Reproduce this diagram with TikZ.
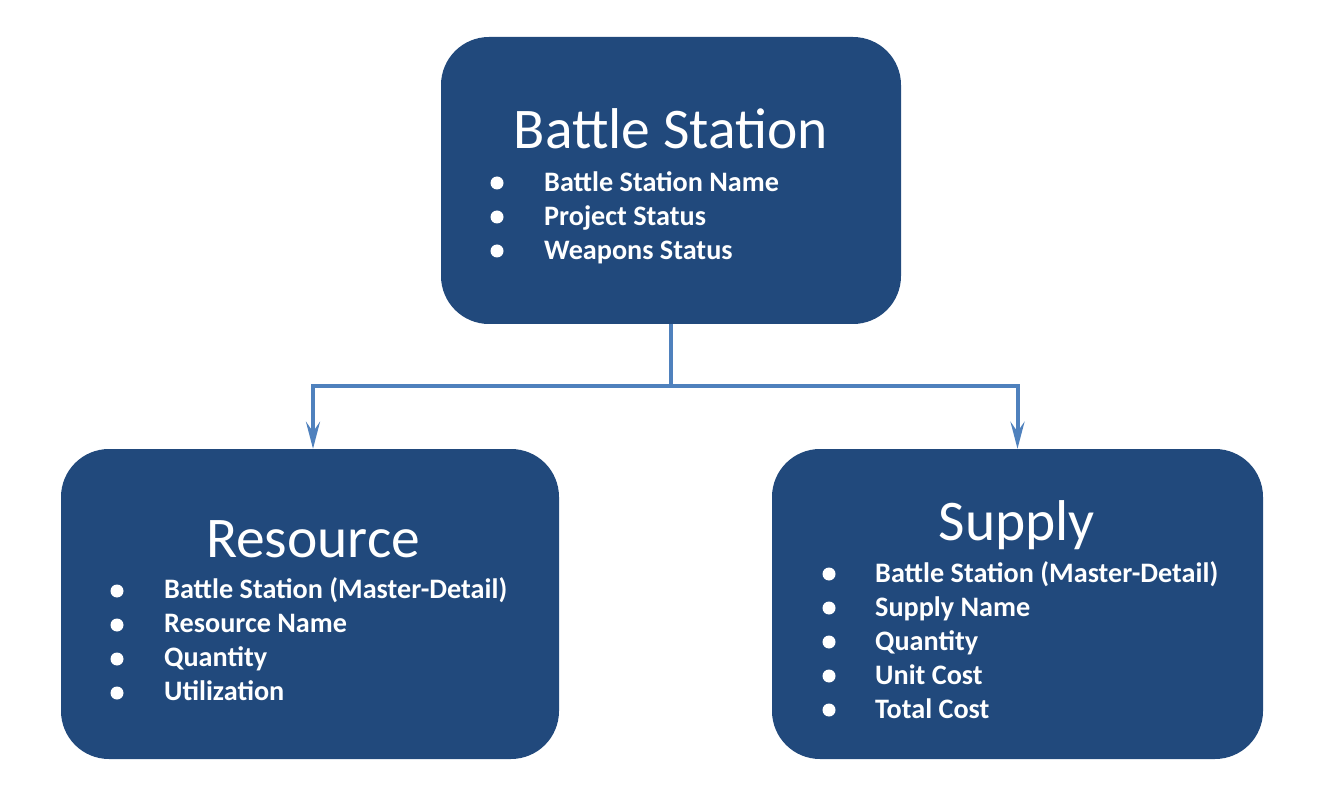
\documentclass[tikz,border=0pt]{standalone}
\usepackage{fontspec}
\setmainfont{Carlito}
\usetikzlibrary{arrows.meta}
\definecolor{boxblue}{RGB}{33,73,124}
\definecolor{linkblue}{RGB}{79,129,189}
\tikzset{
  entity/.style={fill=boxblue, draw=none, rounded corners=48pt, inner sep=0pt},
  titletext/.style={text=white, anchor=base, inner sep=0pt, font=\fontsize{57.5}{60}\selectfont},
  itemtext/.style={text=white, anchor=base west, inner sep=0pt, font=\fontsize{28.2}{30}\selectfont\bfseries},
  dot/.style={circle, fill=white, minimum size=13pt, inner sep=0pt},
  conn/.style={draw=linkblue, line width=4pt, -{Stealth[length=27pt,width=14pt,inset=10pt]}},
}
\begin{document}
\begin{tikzpicture}[x=1pt,y=-1pt]
\useasboundingbox (0,0) rectangle (1326,810);
% boxes
\node[entity, minimum width=460pt, minimum height=287pt] (top) at (671,180.5) {};
\node[entity, minimum width=498pt, minimum height=310pt] (left) at (310,604) {};
\node[entity, minimum width=491pt, minimum height=310pt] (right) at (1017.5,604) {};
% connectors
\coordinate (split) at (671,386);
\draw[conn] (top.south) -- (split) -| ([xshift=3pt]left.north);
\draw[conn] (split) -| (right.north);
% top box text
\node[titletext] (ttitle) at (671,149) {Battle Station};
\node[dot] (tb1) at (497,183) {};
\node[dot] (tb2) at (497,217) {};
\node[dot] (tb3) at (497,251) {};
\node[itemtext] (ti1) at (544,192) {Battle Station Name};
\node[itemtext] (ti2) at (544,226) {Project Status};
\node[itemtext] (ti3) at (544,260) {Weapons Status};
% left box text
\node[titletext] (ltitle) at (313,557) {Resource};
\node[dot] (lb1) at (117,591) {};
\node[dot] (lb2) at (117,625) {};
\node[dot] (lb3) at (117,659) {};
\node[dot] (lb4) at (117,693) {};
\node[itemtext] (li1) at (164,598) {Battle Station (Master-Detail)};
\node[itemtext] (li2) at (164,632) {Resource Name};
\node[itemtext] (li3) at (164,666) {Quantity};
\node[itemtext] (li4) at (164,700) {Utilization};
% right box text
\node[titletext] (rtitle) at (1017,540) {Supply};
\node[dot] (rb1) at (829,574) {};
\node[dot] (rb2) at (829,608) {};
\node[dot] (rb3) at (829,642) {};
\node[dot] (rb4) at (829,676) {};
\node[dot] (rb5) at (829,710) {};
\node[itemtext] (ri1) at (875,582) {Battle Station (Master-Detail)};
\node[itemtext] (ri2) at (875,616) {Supply Name};
\node[itemtext] (ri3) at (875,650) {Quantity};
\node[itemtext] (ri4) at (875,684) {Unit Cost};
\node[itemtext] (ri5) at (875,718) {Total Cost};
\end{tikzpicture}
\end{document}
